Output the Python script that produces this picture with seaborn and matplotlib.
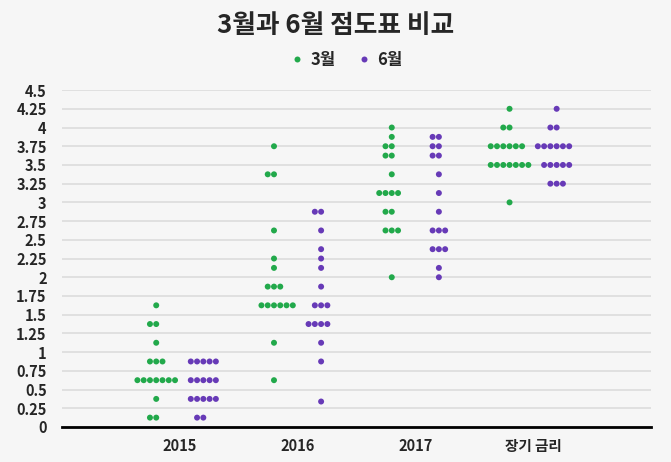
import matplotlib
matplotlib.use("Agg")
import matplotlib.pyplot as plt
import seaborn as sns
import pandas as pd
import numpy as np

periods = ["2015", "2016", "2017", "장기 금리"]
months = ["3월", "6월"]

# (rate level, number of dots)
mar_2015 = [(1.625, 1), (1.375, 2), (1.125, 1), (0.875, 3), (0.625, 7), (0.375, 1), (0.125, 2)]
jun_2015 = [(0.875, 5), (0.625, 5), (0.375, 5), (0.125, 2)]
mar_2016 = [(3.75, 1), (3.375, 2), (2.625, 1), (2.25, 1), (2.125, 1), (1.875, 3),
            (1.625, 6), (1.125, 1), (0.625, 1)]
jun_2016 = [(2.875, 2), (2.625, 1), (2.375, 1), (2.25, 1), (2.125, 1), (1.875, 1),
            (1.625, 3), (1.375, 4), (1.125, 1), (0.875, 1), (0.34, 1)]
mar_2017 = [(4.0, 1), (3.875, 1), (3.75, 2), (3.625, 2), (3.375, 1), (3.125, 4),
            (2.875, 2), (2.625, 3), (2.0, 1)]
jun_2017 = [(3.875, 2), (3.75, 2), (3.625, 2), (3.375, 1), (3.125, 1), (2.875, 1),
            (2.625, 3), (2.375, 3), (2.125, 1), (2.0, 1)]
mar_long = [(4.25, 1), (4.0, 2), (3.75, 6), (3.5, 7), (3.0, 1)]
jun_long = [(4.25, 1), (4.0, 2), (3.75, 6), (3.5, 5), (3.25, 3)]

series = {
    ("2015", "3월"): mar_2015, ("2015", "6월"): jun_2015,
    ("2016", "3월"): mar_2016, ("2016", "6월"): jun_2016,
    ("2017", "3월"): mar_2017, ("2017", "6월"): jun_2017,
    ("장기 금리", "3월"): mar_long, ("장기 금리", "6월"): jun_long,
}

rows = []
for (period, month), dots in series.items():
    for rate, n in dots:
        for _ in range(n):
            rows.append({"period": period, "month": month, "rate": rate})
df = pd.DataFrame(rows)

bg = "#f6f6f6"
sns.set_theme(style="white")
plt.rcParams["font.family"] = ["Noto Sans CJK KR", "DejaVu Sans"]

fig = plt.figure(figsize=(6.71, 4.62), dpi=100, facecolor=bg)
ax = fig.add_axes([0.0924, 0.0758, 0.8776, 0.7292])
ax.set_facecolor(bg)

sns.swarmplot(data=df, x="period", y="rate", hue="month", order=periods,
              hue_order=months, palette=["#22a94b", "#673ab7"], dodge=True,
              size=4.3, ax=ax)

ax.set_xlim(-1, 4)
ax.set_ylim(0, 4.5)
yt = np.arange(0, 4.51, 0.25)
ax.set_yticks(yt)
ax.set_yticklabels([f"{v:g}" for v in yt], fontsize=10.5, fontweight="bold")
ax.set_xticks(range(len(periods)))
ax.set_xticklabels(periods, fontsize=10.5, fontweight="bold")
ax.tick_params(axis="both", length=0)
ax.tick_params(axis="y", pad=11)
ax.tick_params(axis="x", pad=8)
ax.grid(axis="y", color="#dcdcdc", linewidth=1.2)
ax.set_axisbelow(True)
for s in ["top", "right", "left"]:
    ax.spines[s].set_visible(False)
ax.spines["bottom"].set_color("black")
ax.spines["bottom"].set_linewidth(2)
ax.set_xlabel("")
ax.set_ylabel("")

sns.move_legend(ax, "center", bbox_to_anchor=(0.516, 0.87), bbox_transform=fig.transFigure,
                ncol=2, frameon=False, title=None, handlelength=0.8, handletextpad=0.4,
                columnspacing=1.3, prop={"weight": "bold", "size": 12})

fig.suptitle("3월과 6월 점도표 비교", y=0.945, va="center", fontsize=18.5, fontweight="bold")

fig.savefig("out.png", dpi=100, facecolor=bg)
